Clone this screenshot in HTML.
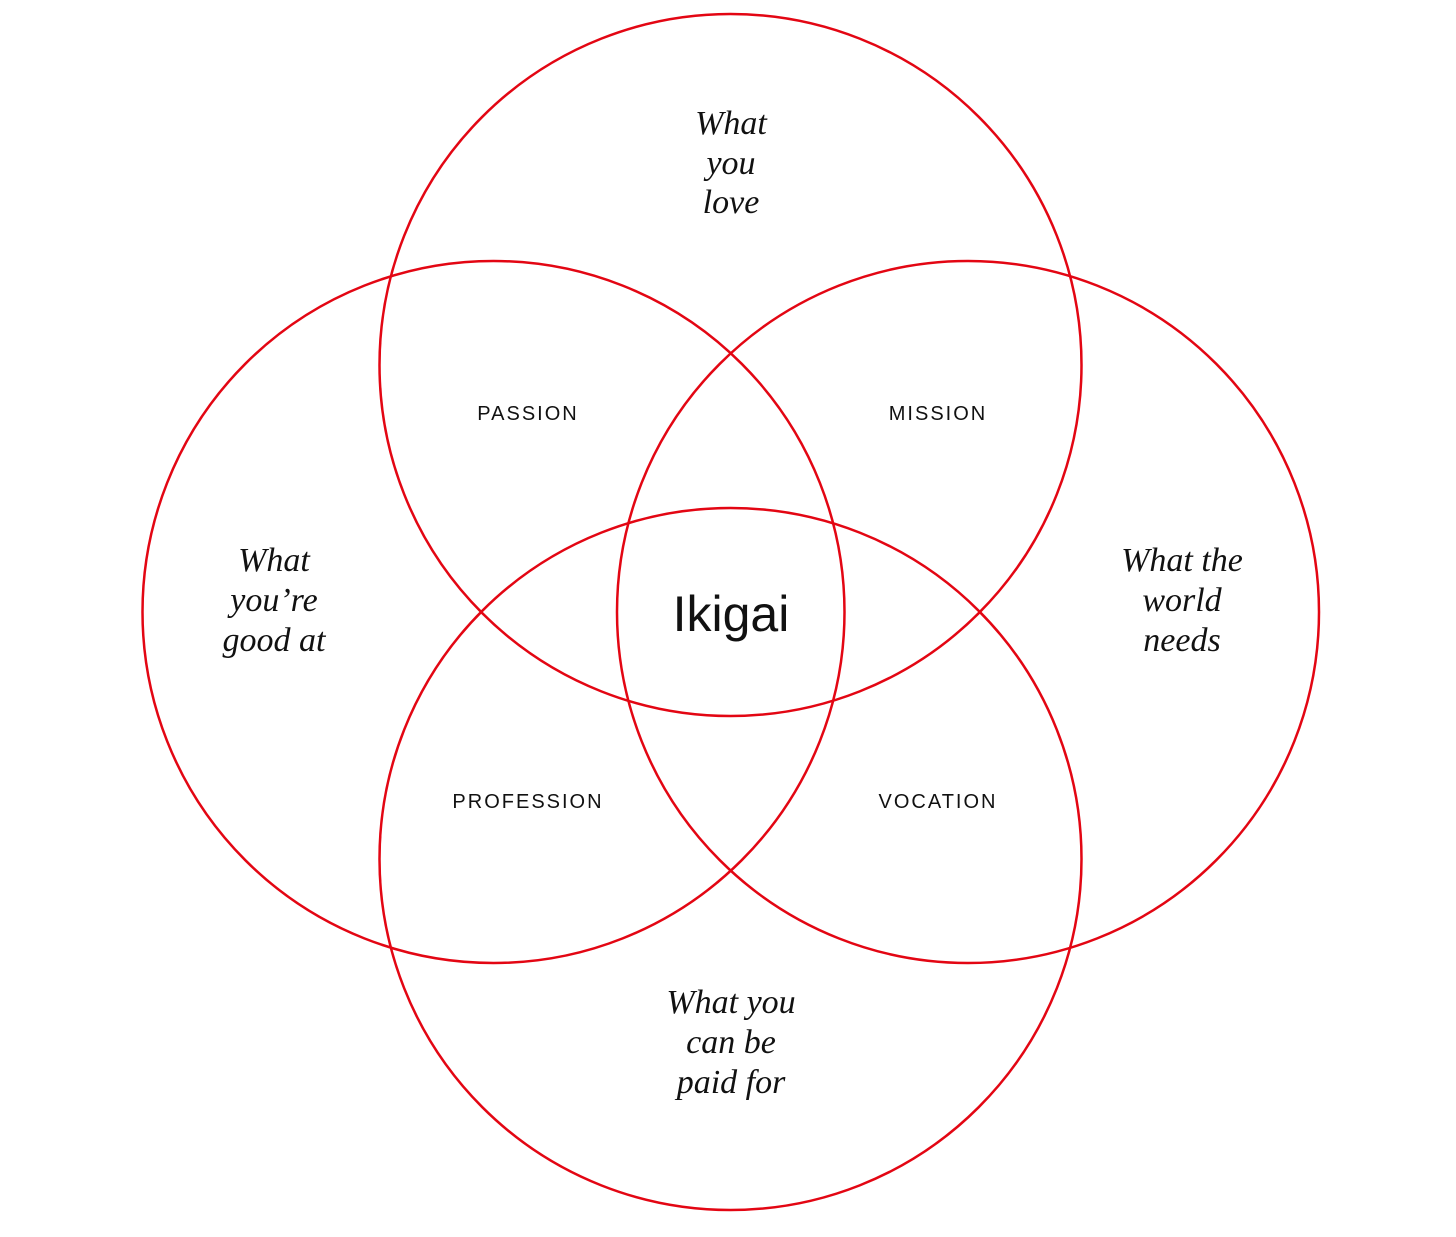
<!DOCTYPE html>
<html><head><meta charset="utf-8"><style>
html,body{margin:0;padding:0;background:#fff;}
svg{display:block}
.s{font-family:"Liberation Serif",serif;font-style:italic;font-size:34px;fill:#111;text-anchor:middle}
.c{font-family:"Liberation Sans",sans-serif;font-size:20px;letter-spacing:2px;fill:#111;text-anchor:middle}
</style></head><body>
<svg width="1456" height="1237" viewBox="0 0 1456 1237" xmlns="http://www.w3.org/2000/svg">
<g fill="none" stroke="#e30613" stroke-width="2.5">
<circle cx="730.5" cy="365" r="351"/>
<circle cx="493.5" cy="612" r="351"/>
<circle cx="968" cy="612" r="351"/>
<circle cx="730.5" cy="859" r="351"/>
</g>
<text class="s" x="731" y="134">What</text>
<text class="s" x="731" y="174">you</text>
<text class="s" x="731" y="213">love</text>
<text class="s" x="274" y="571">What</text>
<text class="s" x="274" y="611">you’re</text>
<text class="s" x="274" y="651">good at</text>
<text class="s" x="1182" y="571">What the</text>
<text class="s" x="1182" y="611">world</text>
<text class="s" x="1182" y="651">needs</text>
<text class="s" x="731" y="1013">What you</text>
<text class="s" x="731" y="1053">can be</text>
<text class="s" x="731" y="1093">paid for</text>
<text class="c" x="528" y="420">PASSION</text>
<text class="c" x="938" y="420">MISSION</text>
<text class="c" x="528" y="808">PROFESSION</text>
<text class="c" x="938" y="808">VOCATION</text>
<text x="731" y="631" font-family="Liberation Sans,sans-serif" font-size="50" fill="#111" text-anchor="middle">Ikigai</text>
</svg>
</body></html>
